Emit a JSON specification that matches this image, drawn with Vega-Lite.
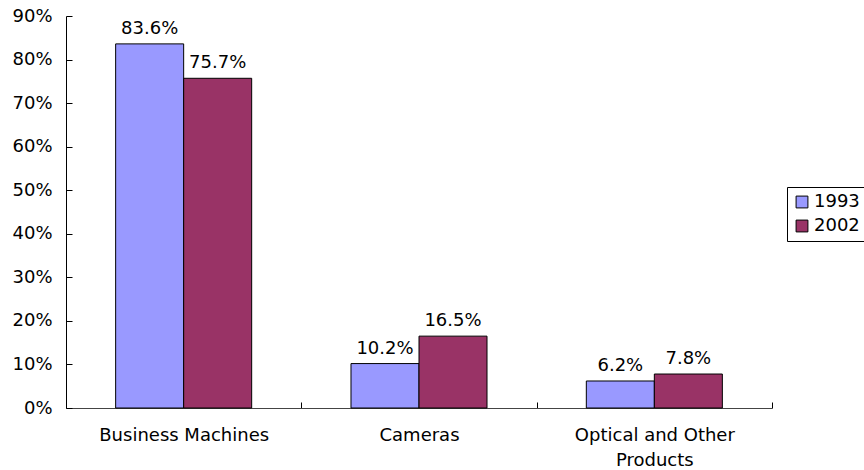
{
  "$schema": "https://vega.github.io/schema/vega-lite/v6.json",
  "autosize": "none",
  "width": 706,
  "height": 392,
  "padding": {"left": 66, "top": 16, "right": 92, "bottom": 62},
  "background": "white",
  "config": {
    "view": {"stroke": null},
    "font": "DejaVu Sans",
    "axis": {"labelFont": "DejaVu Sans", "labelFontSize": 18, "labelColor": "black", "domainColor": "black", "tickColor": "black", "grid": false}
  },
  "data": {
    "values": [
      {"category": "Business Machines", "year": "1993", "share": 0.836},
      {"category": "Business Machines", "year": "2002", "share": 0.757},
      {"category": "Cameras", "year": "1993", "share": 0.102},
      {"category": "Cameras", "year": "2002", "share": 0.165},
      {"category": "Optical and Other Products", "year": "1993", "share": 0.062},
      {"category": "Optical and Other Products", "year": "2002", "share": 0.078}
    ]
  },
  "encoding": {
    "x": {
      "field": "category", "type": "nominal", "sort": null, "title": null,
      "scale": {"paddingInner": 0, "paddingOuter": 0},
      "axis": {"labelAngle": 0, "tickBand": "extent", "tickSize": -6, "labelPadding": 24, "domainColor": "#444", "labelExpr": "datum.label == 'Optical and Other Products' ? ['Optical and Other', 'Products'] : datum.label", "labelLineHeight": 25}
    },
    "xOffset": {"field": "year", "type": "nominal", "scale": {"paddingInner": 0, "paddingOuter": 0.73}},
    "y": {
      "field": "share", "type": "quantitative", "title": null,
      "scale": {"domain": [0, 0.9], "nice": false},
      "axis": {"format": ".0%", "values": [0, 0.1, 0.2, 0.3, 0.4, 0.5, 0.6, 0.7, 0.8, 0.9], "tickSize": -6, "labelPadding": 20}
    }
  },
  "layer": [
    {
      "mark": {"type": "bar", "stroke": "black", "strokeWidth": 1},
      "encoding": {
        "color": {
          "field": "year", "type": "nominal", "title": null,
          "scale": {"domain": ["1993", "2002"], "range": ["#9999FF", "#993366"]},
          "legend": {
            "orient": "none", "legendX": 721, "legendY": 171,
            "symbolType": "square", "symbolSize": 140, "symbolStrokeColor": "black", "symbolStrokeWidth": 1,
            "labelFontSize": 18, "labelColor": "black", "labelFont": "DejaVu Sans",
            "strokeColor": "black", "padding": 6, "rowPadding": 6, "labelOffset": 3
          }
        }
      }
    },
    {
      "mark": {"type": "text", "baseline": "alphabetic", "dy": -10, "fontSize": 18, "font": "DejaVu Sans", "color": "black"},
      "encoding": {"text": {"field": "share", "type": "quantitative", "format": ".1%"}}
    }
  ]
}
